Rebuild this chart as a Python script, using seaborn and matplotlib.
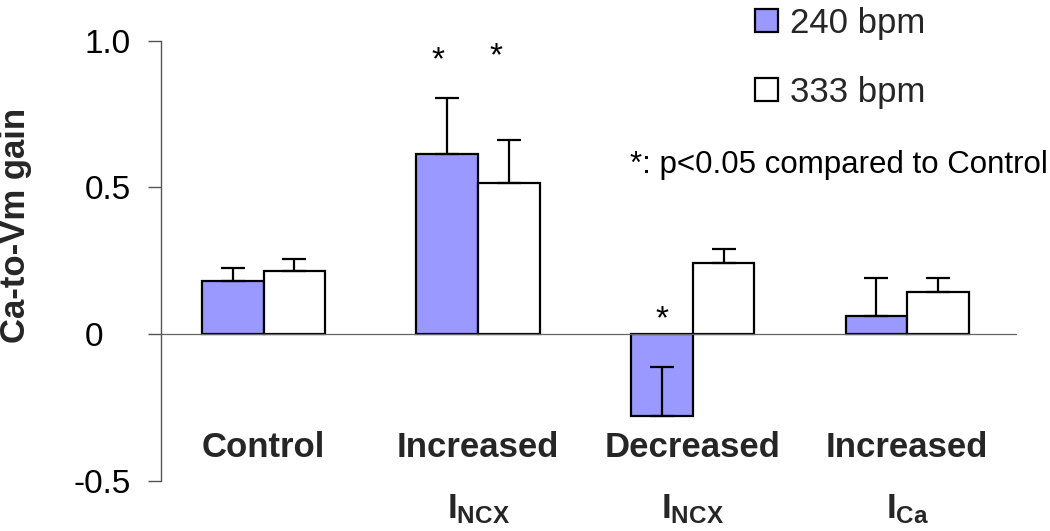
import matplotlib
matplotlib.use("Agg")
import matplotlib.pyplot as plt
import seaborn as sns
import pandas as pd
import numpy as np

# ---- data ----
conditions = ["Control", "Increased INCX", "Decreased INCX", "Increased ICa"]
tick_labels = ["Control",
               "Increased\n$\\mathrm{I}_{\\mathrm{NCX}}$",
               "Decreased\n$\\mathrm{I}_{\\mathrm{NCX}}$",
               "Increased\n$\\mathrm{I}_{\\mathrm{Ca}}$"]
rates = ["240 bpm", "333 bpm"]
gain_240 = [0.179, 0.614, -0.279, 0.062]
gain_333 = [0.213, 0.515, 0.242, 0.144]
err_240 = [0.046, 0.191, 0.166, 0.130]
err_333 = [0.043, 0.147, 0.047, 0.048]
# significance stars: (condition index, rate index, y of star baseline, x nudge)
stars = [(1, 0, 0.903, -0.045), (1, 1, 0.916, -0.06), (2, 0, 0.018, 0.0)]
yticks = [-0.5, 0, 0.5, 1.0]
ytick_labels = ["-0.5", "0   ", "0.5", "1.0"]

df = pd.DataFrame({
    "condition": conditions * 2,
    "rate": [rates[0]] * 4 + [rates[1]] * 4,
    "gain": gain_240 + gain_333,
})

sns.set_style("white")
plt.rcParams["font.family"] = ["Liberation Sans", "DejaVu Sans"]
plt.rcParams["mathtext.fontset"] = "custom"
plt.rcParams["mathtext.rm"] = "Liberation Sans:bold"
plt.rcParams["mathtext.it"] = "Liberation Sans:bold"
plt.rcParams["mathtext.bf"] = "Liberation Sans:bold"

fig = plt.figure(figsize=(10.5, 5.31), dpi=100)
ax = fig.add_axes([0.1530, 0.0951, 0.8152, 0.8283])

sns.barplot(data=df, x="condition", y="gain", hue="rate",
            order=conditions, hue_order=rates,
            palette={rates[0]: "#9999FF", rates[1]: "white"},
            edgecolor="black", linewidth=1.6, width=0.575,
            errorbar=None, saturation=1, ax=ax)

errs = [err_240, err_333]
vals = [gain_240, gain_333]
centers = []
for h, cont in enumerate(ax.containers[:2]):
    xs = [b.get_x() + b.get_width() / 2 for b in cont]
    centers.append(xs)
    ax.errorbar(xs, vals[h], yerr=[np.zeros(4), errs[h]], fmt="none",
                ecolor="black", elinewidth=1.6, capsize=8.5, capthick=1.6,
                zorder=5)

for ci, hi, y, dx in stars:
    ax.text(centers[hi][ci] + dx, y, "*", ha="center", va="baseline",
            fontsize=24, color="black")

ax.set_xlim(-0.48, 3.51)
ax.set_ylim(-0.5, 1.0)
ax.axhline(0, color="#666666", lw=0.9, zorder=1)

for s in ["top", "right", "bottom"]:
    ax.spines[s].set_visible(False)
ax.spines["left"].set_color("#555555")
ax.spines["left"].set_linewidth(1.0)

ax.set_yticks(yticks)
ax.set_yticklabels(ytick_labels)
ax.tick_params(axis="y", left=True, length=9.4, width=1.0, color="#555555",
               pad=12, labelsize=24, labelcolor="black")
ax.set_xticks(range(len(conditions)))
ax.set_xticklabels(tick_labels, fontsize=25, fontweight="bold", linespacing=2.08)
ax.tick_params(axis="x", bottom=False, length=0, pad=-35.5)

ax.set_xlabel("")
ax.set_ylabel("Ca-to-Vm gain", fontsize=25, fontweight="bold")
ax.yaxis.label.set_va("center")
ax.yaxis.set_label_coords(-0.170, 0.581)

leg = ax.legend(loc="upper left", bbox_to_anchor=(755 / 1050, 1 - 6.5 / 531),
                bbox_transform=fig.transFigure, frameon=False, fontsize=25,
                handlelength=0.66, handleheight=0.64, handletextpad=0.35,
                labelspacing=1.05, borderpad=0, borderaxespad=0)

ax.text(0.548, 0.699, "*: p<0.05 compared to Control", transform=ax.transAxes,
        ha="left", va="baseline", fontsize=22.5, color="black")

fig.savefig("out.png", dpi=100)
